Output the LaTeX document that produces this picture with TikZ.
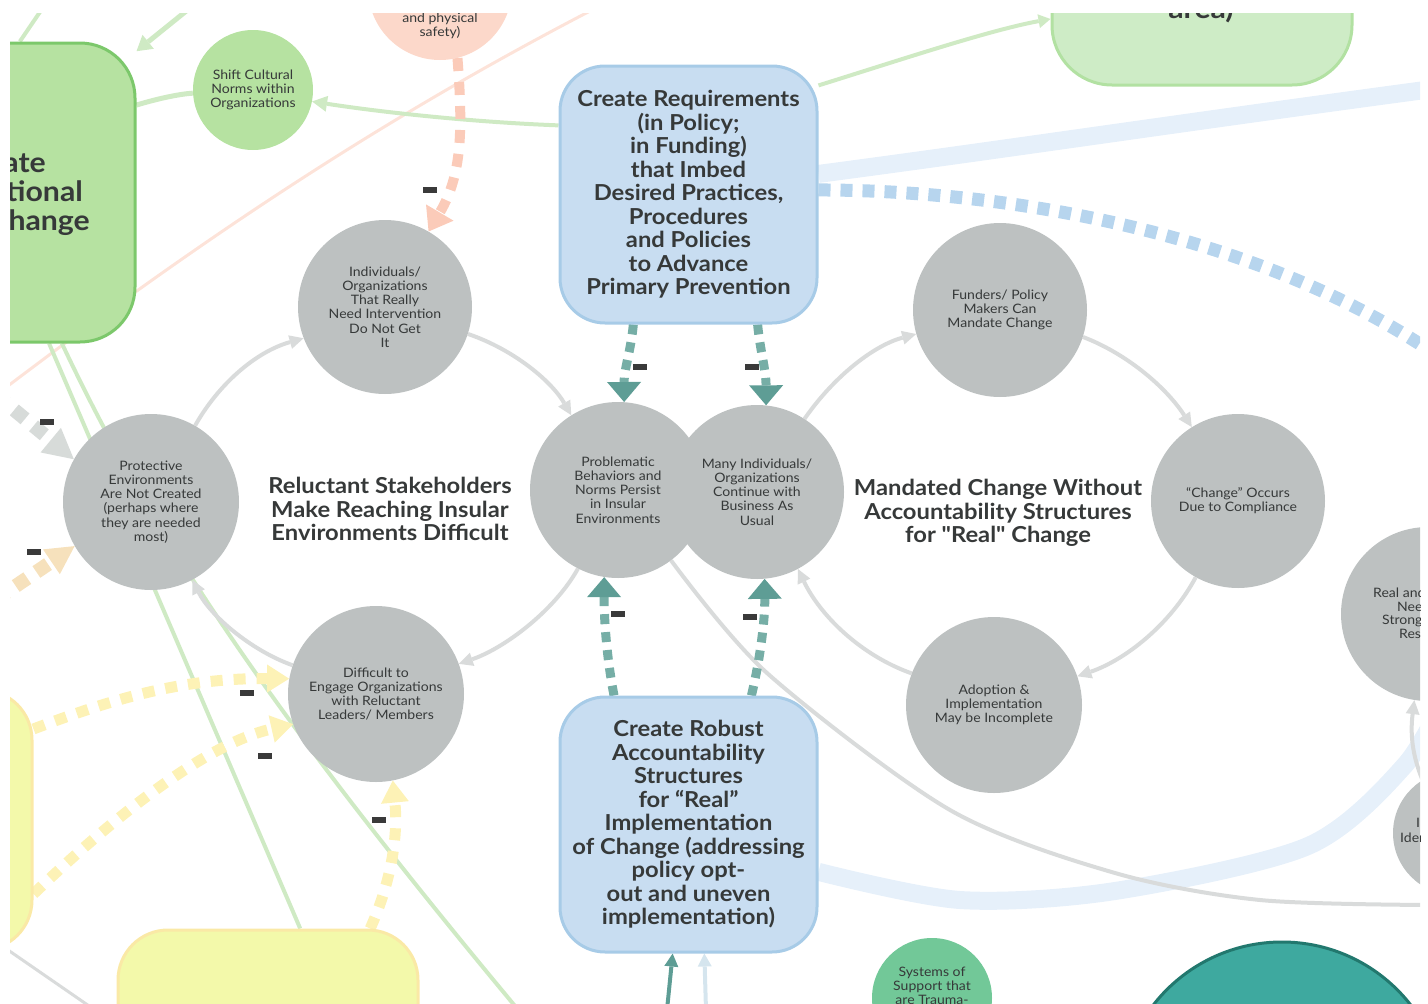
\documentclass[tikz,border=0pt]{standalone}
\usepackage{fontspec}
\setmainfont[FakeStretch=1.08]{Lato}
\usetikzlibrary{arrows.meta}
\pgfdeclarelayer{back}
\pgfsetlayers{back,main}

\definecolor{ctxt}{HTML}{363939}
\definecolor{cgray}{HTML}{BDC1C1}
\definecolor{cgarr}{HTML}{D9DBDB}
\definecolor{cbluefill}{HTML}{C8DDF1}
\definecolor{cblueline}{HTML}{A7CBE7}
\definecolor{cbluedash}{HTML}{B7D5EE}
\definecolor{cband}{HTML}{E6F0FA}
\definecolor{cgrnfill}{HTML}{B6E2A1}
\definecolor{cgrnline}{HTML}{7CC86B}
\definecolor{cgrn2fill}{HTML}{CEECC6}
\definecolor{cgrn2line}{HTML}{B2E1A2}
\definecolor{clgline}{HTML}{CFEAC4}
\definecolor{cpeachfill}{HTML}{FCD8CA}
\definecolor{cpeachdash}{HTML}{FBCBB9}
\definecolor{cpeachline}{HTML}{FDE3D9}
\definecolor{cyelfill}{HTML}{F3F9AA}
\definecolor{cyelline}{HTML}{FAE9A6}
\definecolor{cyeldash}{HTML}{FDF2B6}
\definecolor{ctealdash}{HTML}{76AEA6}
\definecolor{ctealtip}{HTML}{5E9D95}
\definecolor{ctealbig}{HTML}{3EA99F}
\definecolor{ctealbigline}{HTML}{22786E}
\definecolor{csys}{HTML}{72C898}
\definecolor{corng}{HTML}{F6E1BC}
\definecolor{clgdash}{HTML}{D7DBD9}
\definecolor{cmark}{HTML}{3A3A3A}
\definecolor{clblue}{HTML}{D5E5EE}

\tikzset{
  ctext/.style={font=\fontsize{13}{14.2}\selectfont, text=ctxt, align=center},
  gcirc/.style={circle, fill=cgray, inner sep=0pt, minimum size=#1, ctext},
  bluebox/.style={rectangle, rounded corners=45pt, fill=cbluefill, draw=cblueline,
    line width=3pt, inner sep=0pt, minimum width=257pt, minimum height=#1,
    align=center, text=ctxt, font=\bfseries\fontsize{22}{23.5}\selectfont},
  grnbox/.style={rectangle, rounded corners=55pt, fill=cgrnfill, draw=cgrnline,
    line width=3pt, minimum width=300pt, minimum height=#1},
  ttl/.style={align=center, text=ctxt, font=\bfseries\fontsize{22}{23.5}\selectfont},
  bigword/.style={text=ctxt, font=\bfseries\fontsize{28}{30}\selectfont, inner sep=0pt},
  cyc/.style={draw=cgarr, line width=4pt, -{Triangle[length=14pt,width=14pt,line width=0pt]}},
  neg/.style={fill=cmark, inner sep=0pt, minimum width=14pt, minimum height=6pt},
  tealflow/.style={draw=ctealdash, line width=9pt, dash pattern=on 10pt off 8pt,
    -{Triangle[length=20pt,width=34pt,line width=0pt,color=ctealtip]}},
  peachflow/.style={draw=cpeachdash, line width=10pt, dash pattern=on 13pt off 11pt,
    -{Triangle[length=22pt,width=32pt,line width=0pt]}},
  yelflow/.style={draw=cyeldash, line width=11pt, dash pattern=on 12pt off 11pt,
    -{Triangle[length=22pt,width=28pt,line width=0pt]}},
  blueflow/.style={draw=cbluedash, line width=13pt, dash pattern=on 12pt off 10pt},
  wideband/.style={draw=cband, line width=18pt},
  lgline/.style={draw=clgline, line width=4pt},
}

\begin{document}
\begin{tikzpicture}[x=1pt,y=-1pt]
\useasboundingbox (0,0) rectangle (1428,1004);

\begin{scope}
\clip (10,13) rectangle (1420,1004);

% large boxes at the edges
\node[grnbox=299pt] (orgbox) at (-15,192.5) {};
\node[bigword, anchor=base east] (org1) at (46,172) {Create};
\node[bigword, anchor=base east] (org2) at (83,201) {Organizational};
\node[bigword, anchor=base east] (org3) at (90,230) {Change};

\node[rectangle, rounded corners=60pt, fill=cgrn2fill, draw=cgrn2line, line width=3pt,
      minimum width=300pt, minimum height=300pt] (grbox) at (1202,-65) {};
\node[bigword, anchor=base] (grtxt) at (1201,18) {area)};

\node[rectangle, rounded corners=50pt, fill=cyelfill, draw=cyelline, line width=3pt,
      minimum width=300pt, minimum height=260pt] (ly) at (-118,820) {};
\node[rectangle, rounded corners=50pt, fill=cyelfill, draw=cyelline, line width=3pt,
      minimum width=300pt, minimum height=300pt] (yb) at (268,1080) {};

\node[circle, fill=cpeachfill, minimum size=144pt, inner sep=0pt] (phys) at (440,-12) {};
\node[ctext] (physt) at (440,25.5) {and physical\\safety)};

\node[circle, fill=cgrnfill, minimum size=120pt, inner sep=0pt, ctext] (shift) at (253,90)
  {Shift Cultural\\Norms within\\Organizations};

% policy boxes
\node[bluebox=257pt] (req) at (688.5,194.5)
  {Create Requirements\\(in Policy;\\in Funding)\\that Imbed\\Desired Practices,\\Procedures\\and Policies\\to Advance\\Primary Prevention};
\node[bluebox=255pt] (acc) at (688.5,824.5)
  {Create Robust\\Accountability\\Structures\\for “Real”\\Implementation\\of Change (addressing\\policy opt-\\out and uneven\\implementation)};

% left loop
\node[gcirc=174pt] (ind) at (385,307) {Individuals/\\Organizations\\That Really\\Need Intervention\\Do Not Get\\It};
\node[gcirc=176pt] (prot) at (151,502) {Protective\\Environments\\Are Not Created\\(perhaps where\\they are needed\\most)};
\node[gcirc=176pt] (diff) at (376,694) {Difficult to\\Engage Organizations\\with Reluctant\\Leaders/ Members};
\node[gcirc=176pt] (prob) at (618,490) {Problematic\\Behaviors and\\Norms Persist\\in Insular\\Environments};
\node[ttl] (lefttitle) at (390,509) {Reluctant Stakeholders\\Make Reaching Insular\\Environments Difficult};

% right loop
\node[gcirc=174pt] (many) at (757,492) {Many Individuals/\\Organizations\\Continue with\\Business As\\Usual};
\node[gcirc=174pt] (fund) at (1000,310) {Funders/ Policy\\Makers Can\\Mandate Change};
\node[gcirc=174pt] (comp) at (1238,501) {“Change” Occurs\\Due to Compliance};
\node[gcirc=176pt] (adopt) at (994,705) {Adoption \&\\Implementation\\May be Incomplete};
\node[ttl] (righttitle) at (998,513) {Mandated Change Without\\Accountability Structures\\for {\addfontfeatures{Ligatures=TeXOff}"Real"} Change};

% circles at the right edge
\node[gcirc=174pt] (realc) at (1428,614) {};
\node[ctext, anchor=west, inner sep=0pt] (rt1) at (1373,593) {Real and};
\node[ctext, anchor=west, inner sep=0pt] (rt2) at (1397,607) {Needs};
\node[ctext, anchor=west, inner sep=0pt] (rt3) at (1382,621) {Stronger};
\node[ctext, anchor=west, inner sep=0pt] (rt4) at (1399,635) {Response};
\node[gcirc=124pt] (idc) at (1455,833) {};
\node[ctext, anchor=west, inner sep=0pt] (it1) at (1416,823) {In};
\node[ctext, anchor=west, inner sep=0pt] (it2) at (1400,838) {Identified};

% bottom circles
\node[circle, fill=csys, minimum size=120pt, inner sep=0pt] (sys) at (932,998) {};
\node[ctext] (syst) at (932,986) {Systems of\\Support that\\are Trauma-};
\node[circle, fill=ctealbig, draw=ctealbigline, line width=3pt, minimum size=326pt] (tealc) at (1282,1105) {};

% polarity marks
\node[neg] (m1) at (430,190) {};
\node[neg] (m2) at (640,367) {};
\node[neg] (m3) at (752,367) {};
\node[neg] (m4) at (618,614) {};
\node[neg] (m5) at (750,617) {};
\node[neg] (m6) at (47,422) {};
\node[neg] (m7) at (34,552) {};
\node[neg] (m8) at (247,693) {};
\node[neg] (m9) at (265,756) {};
\node[neg] (m10) at (379,820) {};
\end{scope}

\begin{pgfonlayer}{back}
\begin{scope}
\clip (10,13) rectangle (1420,1004);
\coordinate (pk1) at (0,392);
\coordinate (pk2) at (592,10);
\coordinate (gtop) at (42,9);
\coordinate (gin) at (190,8);
\coordinate (bandend) at (1440,88);
\coordinate (dashend) at (1432,352);
\coordinate (l2end) at (520,1012);
\coordinate (gl1) at (8,950);
\coordinate (gl2) at (92,1008);
\coordinate (gray0) at (-5,394);
\coordinate (orng0) at (-5,600);
\coordinate (tealsrc) at (667,1010);
\coordinate (lbsrc) at (706,1010);
\coordinate (realsrc) at (1428,792);

% thin background lines
\draw[draw=cpeachline, line width=3pt] (pk1) .. controls (200,240) and (380,120) .. (pk2);
\draw[lgline] (orgbox.-67) -- (yb.78);
\draw[lgline] (orgbox.-63) .. controls (150,530) and (260,700) .. (l2end);
\draw[lgline] (orgbox.77) -- (gtop);
\draw[lgline, line width=5pt, -{Triangle[length=15pt,width=18pt,line width=0pt]}] (gin) -- (orgbox.43);
\draw[lgline, line width=5pt] (orgbox.30) .. controls (160,98) and (180,94) .. (shift.183);
\draw[lgline, -{Triangle[length=15pt,width=16pt,line width=0pt]}] (req.152) .. controls (470,122) and (380,112) .. (shift.-11);
\draw[lgline, -{Triangle[length=12pt,width=14pt,line width=0pt]}] (req.40) .. controls (900,60) and (990,30) .. (grbox.209);
\draw[draw=cgarr, line width=3pt] (gl1) -- (gl2);

% wide bands
\draw[wideband] (req.9) .. controls (1000,150) and (1200,120) .. (bandend);
\draw[wideband] plot[smooth] coordinates {(acc.-20) (960,900) (1115,891) (1308,846) (1405,765) (1448,690)};
\draw[blueflow] (req.2) .. controls (1000,190) and (1250,230) .. (dashend);

% long grey link
\draw[draw=cgarr, line width=4pt] plot[smooth] coordinates {(prob.-53) (767,673) (950,810) (1115,873) (1260,900) (1430,905)};
\draw[cyc] (realsrc) .. controls (1412,760) and (1410,735) .. (realc.-99);

% loops
\draw[cyc] (prot.60) .. controls (218,385) and (255,352) .. (ind.201);
\draw[cyc] (ind.-18) .. controls (515,350) and (552,382) .. (prob.122);
\draw[cyc] (prob.243) .. controls (555,610) and (505,648) .. (diff.20);
\draw[cyc] (diff.161) .. controls (250,650) and (210,615) .. (prot.-62);
\draw[cyc] (many.57) .. controls (835,375) and (875,345) .. (fund.196);
\draw[cyc] (fund.-18) .. controls (1130,355) and (1168,390) .. (comp.122);
\draw[cyc] (comp.241) .. controls (1170,625) and (1125,660) .. (adopt.19);
\draw[cyc] (adopt.159) .. controls (860,655) and (820,615) .. (many.-62);

% dashed influence arrows
\draw[peachflow] (phys.-76) .. controls (463,130) and (462,175) .. (ind.60);
\draw[tealflow] (req.-113) .. controls (631,350) and (624,370) .. (prob.86);
\draw[tealflow] (req.-62) .. controls (760,350) and (766,370) .. (many.84);
\draw[tealflow] (acc.120) .. controls (607,660) and (604,620) .. (prob.-99);
\draw[tealflow] (acc.64) .. controls (760,660) and (765,620) .. (many.-85);
\draw[yelflow] (ly.31.5) .. controls (110,700) and (180,678) .. (diff.170);
\draw[yelflow] (ly.-26.6) .. controls (100,830) and (200,745) .. (diff.200);
\draw[yelflow] (yb.56) .. controls (392,880) and (398,835) .. (diff.-79);
\draw[draw=clgdash, line width=14pt, dash pattern=on 14pt off 11pt,
      -{Triangle[length=30pt,width=32pt,line width=0pt]}] (gray0) -- (prot.151);
\draw[draw=corng, line width=14pt, dash pattern=on 14pt off 11pt,
      -{Triangle[length=28pt,width=30pt,line width=0pt]}] (orng0) -- (prot.210);

% links into the lower box
\draw[draw=ctealtip, line width=4pt, -{Triangle[length=13pt,width=14pt,line width=0pt]}] (tealsrc) -- (acc.-97);
\draw[draw=clblue, line width=4pt, -{Triangle[length=13pt,width=14pt,line width=0pt]}] (lbsrc) -- (acc.-83);
\end{scope}
\end{pgfonlayer}
\end{tikzpicture}
\end{document}
